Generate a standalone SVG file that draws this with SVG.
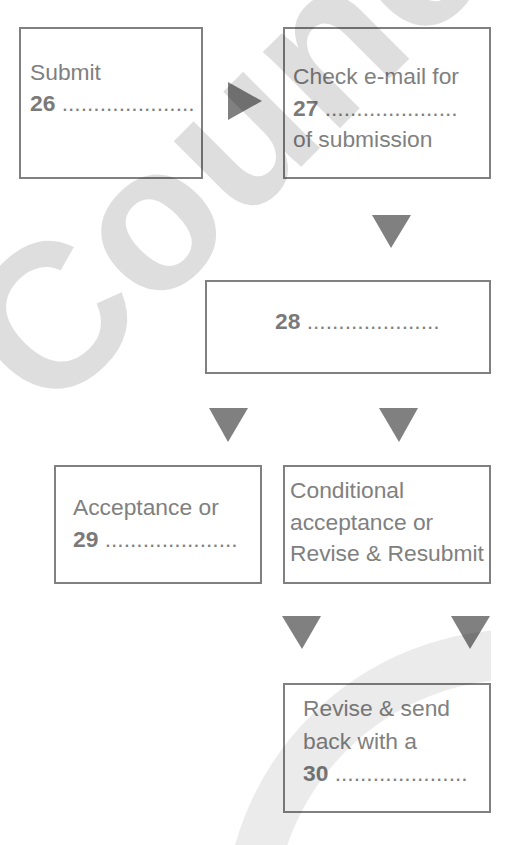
<svg xmlns="http://www.w3.org/2000/svg" width="516" height="845" viewBox="0 0 516 845">
<defs>
<style>
.box{fill:none;stroke:#808080;stroke-width:2}
.t{font-family:"Liberation Sans",Arial,sans-serif;font-size:22.8px;fill:#808080}
.b{font-weight:bold;fill:#7a7a7a}
.arr{fill:#808080}
.wm{font-family:"Liberation Sans",Arial,sans-serif;font-weight:bold;font-size:205px;fill:#000;fill-opacity:0.13}
</style>
<clipPath id="clip"><rect x="0" y="0" width="491" height="845"/></clipPath>
</defs>
<rect width="516" height="845" fill="#fff"/>
<g id="connectors">
<polygon class="arr" points="228,82 262,101 228,120"/>
<polygon class="arr" points="372,215 411,215 391,248"/>
<polygon class="arr" points="209,408 248,408 228,442"/>
<polygon class="arr" points="379,408 418,408 399,442"/>
<polygon class="arr" points="282,616 321,616 302,649"/>
<polygon class="arr" points="451,616 490,616 470,649"/>
</g>
<g id="n26">
<rect class="box" x="20" y="28" width="182" height="150"/>
<text class="t" x="30" y="80">Submit</text>
<text class="t" x="30" y="111"><tspan class="b">26</tspan> .....................</text>
</g>
<g id="n27">
<rect class="box" x="284" y="28" width="206" height="150"/>
<text class="t" x="293" y="84">Check e-mail for</text>
<text class="t" x="293" y="116"><tspan class="b">27</tspan> .....................</text>
<text class="t" x="293" y="147">of submission</text>
</g>
<g id="n28">
<rect class="box" x="206" y="281" width="284" height="92"/>
<text class="t" x="275" y="329"><tspan class="b">28</tspan> .....................</text>
</g>
<g id="n29">
<rect class="box" x="55" y="466" width="206" height="117"/>
<text class="t" x="73" y="515">Acceptance or</text>
<text class="t" x="73" y="547"><tspan class="b">29</tspan> .....................</text>
</g>
<g id="nCond">
<rect class="box" x="284" y="466" width="206" height="117"/>
<text class="t" x="290" y="498">Conditional</text>
<text class="t" x="290" y="530">acceptance or</text>
<text class="t" x="290" y="561">Revise &amp; Resubmit</text>
</g>
<g id="n30">
<rect class="box" x="284" y="684" width="206" height="128"/>
<text class="t" x="303" y="716">Revise &amp; send</text>
<text class="t" x="303" y="749">back with a</text>
<text class="t" x="303" y="781"><tspan class="b">30</tspan> .....................</text>
</g>
<g id="watermark" clip-path="url(#clip)">
<text class="wm" transform="translate(48,420) rotate(-45)">Council</text>
<circle cx="520" cy="925" r="271" fill="none" stroke="#000" stroke-opacity="0.08" stroke-width="50"/>
</g>
</svg>
